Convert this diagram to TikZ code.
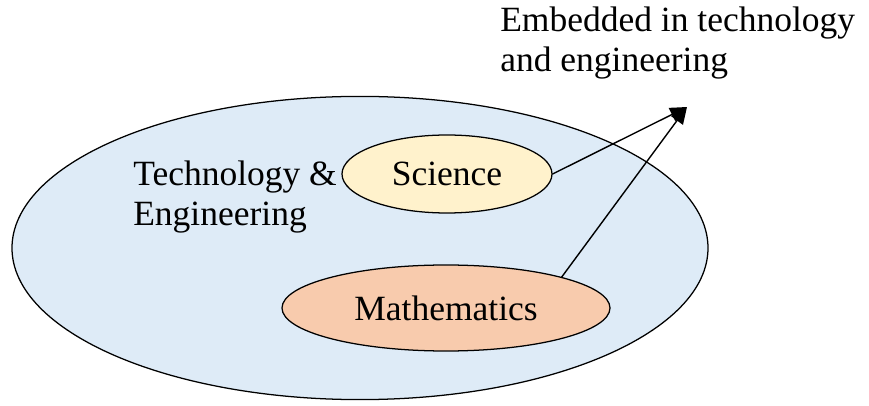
\documentclass[tikz,border=0pt]{standalone}
\usepackage{fontspec}
\setmainfont{Liberation Serif}
\usetikzlibrary{shapes.geometric,arrows.meta}

\definecolor{outerblue}{HTML}{DEEBF7}
\definecolor{sciyellow}{HTML}{FFF2CC}
\definecolor{mathorange}{HTML}{F8CBAD}

\begin{document}
\begin{tikzpicture}[line cap=round, line join=round, x=1cm, y=1cm,
    field/.style={ellipse, draw, line width=0.9pt, inner sep=0pt},
    label/.style={align=left, inner sep=0pt, anchor=base west},
    link/.style={line width=1pt, -{Triangle[length=0.42cm,width=0.36cm]}}]
    \fontsize{25.25}{28.5}\selectfont
    \useasboundingbox (0,0) rectangle (21.725,10.125);

    % outer field and the two subjects inside it
    \node[field, fill=outerblue, minimum width=17.4cm, minimum height=7.58cm] (te) at (9.0,3.925) {};
    \node[field, fill=sciyellow, minimum width=5.25cm, minimum height=1.95cm] (sci) at (11.175,5.775) {Science};
    \node[field, fill=mathorange, minimum width=8.2cm, minimum height=2.15cm] (math) at (11.15,2.425) {Mathematics};

    % labels sit on the baseline of their last line
    \node[label] (telabel) at (3.325,4.475) {Technology \&\\Engineering};
    \node[label] (emb) at (12.5,8.325) {Embedded in technology\\and engineering};

    \coordinate (tip) at (17.175,7.45);
    \draw[link] (sci.east) -- (tip);
    \draw[link] (math.15) -- (tip);

\end{tikzpicture}
\end{document}
